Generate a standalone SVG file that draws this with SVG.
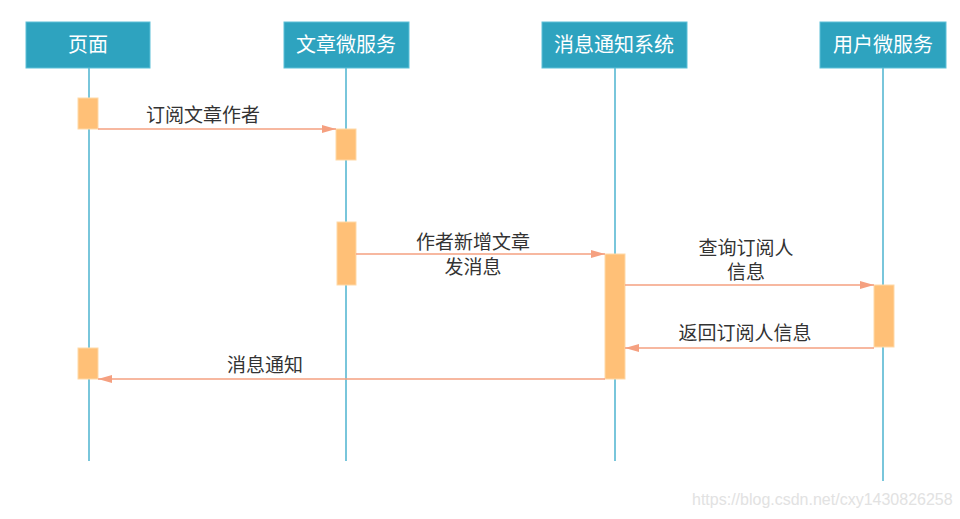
<svg xmlns="http://www.w3.org/2000/svg" width="960" height="519" viewBox="0 0 960 519">
<defs>
<style>
.hdr{fill:#2ea3bf;stroke:#5cc0d8;stroke-width:1}
.ht{font-family:"Liberation Sans","Noto Sans CJK SC",sans-serif;font-size:20px;fill:#ffffff;text-anchor:middle}
.life{stroke:#4db3cf;stroke-width:1.5;fill:none}
.act{fill:#ffc077;stroke:#ffd9a8;stroke-width:1}
.msg{stroke:#f5a080;stroke-width:1.5;fill:none}
.lt{font-family:"Liberation Sans","Noto Sans CJK SC",sans-serif;font-size:19px;fill:#333333;text-anchor:middle}
.wm{font-family:"Liberation Sans",sans-serif;font-size:16px;fill:#e2e2e2}
</style>
<marker id="ah" viewBox="0 0 14 8" refX="14" refY="4" markerWidth="14" markerHeight="8" markerUnits="userSpaceOnUse" orient="auto">
<path d="M0,0 L14,4 L0,8 Z" fill="#f5a080"/>
</marker>
</defs>
<rect width="960" height="519" fill="#ffffff"/>
<g id="lifelines">
<line class="life" x1="89" y1="68" x2="89" y2="461"/>
<line class="life" x1="346" y1="68" x2="346" y2="461"/>
<line class="life" x1="615" y1="68" x2="615" y2="461"/>
<line class="life" x1="883" y1="68" x2="883" y2="481"/>
</g>
<g id="node-page"><rect class="hdr" x="26" y="22" width="124" height="46"/><text class="ht" x="88" y="52">页面</text></g>
<g id="node-article"><rect class="hdr" x="284" y="22" width="125" height="46"/><text class="ht" x="346" y="52">文章微服务</text></g>
<g id="node-notify"><rect class="hdr" x="542" y="22" width="145" height="46"/><text class="ht" x="614" y="52">消息通知系统</text></g>
<g id="node-user"><rect class="hdr" x="820" y="22" width="126" height="46"/><text class="ht" x="883" y="52">用户微服务</text></g>
<g id="activations">
<rect class="act" x="78" y="98" width="20" height="31"/>
<rect class="act" x="336" y="129" width="20" height="31"/>
<rect class="act" x="337" y="222" width="19" height="63"/>
<rect class="act" x="605" y="254" width="20" height="125"/>
<rect class="act" x="874" y="285" width="20" height="62"/>
<rect class="act" x="78" y="348" width="20" height="31"/>
</g>
<g id="connectors">
<line class="msg" x1="98" y1="129" x2="336" y2="129" marker-end="url(#ah)"/>
<line class="msg" x1="356" y1="254" x2="605" y2="254" marker-end="url(#ah)"/>
<line class="msg" x1="625" y1="285" x2="874" y2="285" marker-end="url(#ah)"/>
<line class="msg" x1="874" y1="348" x2="625" y2="348" marker-end="url(#ah)"/>
<line class="msg" x1="605" y1="379" x2="98" y2="379" marker-end="url(#ah)"/>
<text class="lt" x="203" y="122">订阅文章作者</text>
<text class="lt" x="473" y="249">作者新增文章</text>
<text class="lt" x="473" y="274">发消息</text>
<text class="lt" x="746" y="255">查询订阅人</text>
<text class="lt" x="746" y="279">信息</text>
<text class="lt" x="745" y="340">返回订阅人信息</text>
<text class="lt" x="265" y="372">消息通知</text>
</g>
<text class="wm" x="692" y="505">https://blog.csdn.net/cxy1430826258</text>
</svg>
